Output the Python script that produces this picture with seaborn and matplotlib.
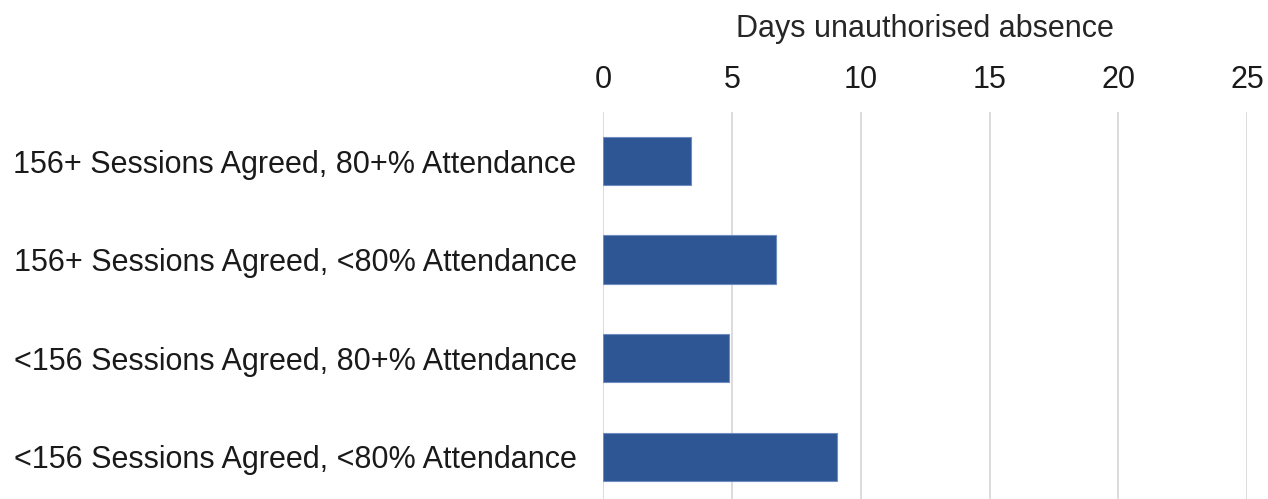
import matplotlib
matplotlib.use("Agg")
import matplotlib.pyplot as plt
import seaborn as sns
import pandas as pd

categories = [
    "156+ Sessions Agreed, 80+% Attendance",
    "156+ Sessions Agreed, <80% Attendance",
    "<156 Sessions Agreed, 80+% Attendance",
    "<156 Sessions Agreed, <80% Attendance",
]
days_absent = [3.4, 6.7, 4.9, 9.1]
x_ticks = [0, 5, 10, 15, 20, 25]

sns.set_style("white")
plt.rcParams["font.family"] = ["Liberation Sans", "DejaVu Sans"]

df = pd.DataFrame({"group": categories, "days": days_absent})

fig = plt.figure(figsize=(12.68, 4.99), dpi=100)
ax = fig.add_axes([0.4755, -0.014, 0.5082, 0.79])

sns.barplot(data=df, y="group", x="days", orient="h", color="#2E5594",
            width=0.49, edgecolor="#6F8CC0", linewidth=0.8, saturation=1, ax=ax)

ax.set_xlim(0, 25)
ax.set_ylim(3.5, -0.5)
ax.set_xticks(x_ticks)
ax.xaxis.tick_top()
ax.xaxis.set_label_position("top")
ax.set_xlabel("Days unauthorised absence", fontsize=22, labelpad=20)
ax.set_ylabel("")
ax.tick_params(axis="x", length=0, labelsize=22, pad=12, colors="#1a1a1a")
ax.tick_params(axis="y", length=0, labelsize=22, pad=19, colors="#1a1a1a")
ax.grid(axis="x", color="#d9d9d9", linewidth=1.3)
ax.set_axisbelow(True)
for s in ax.spines.values():
    s.set_visible(False)

fig.savefig("out.png", dpi=100)
